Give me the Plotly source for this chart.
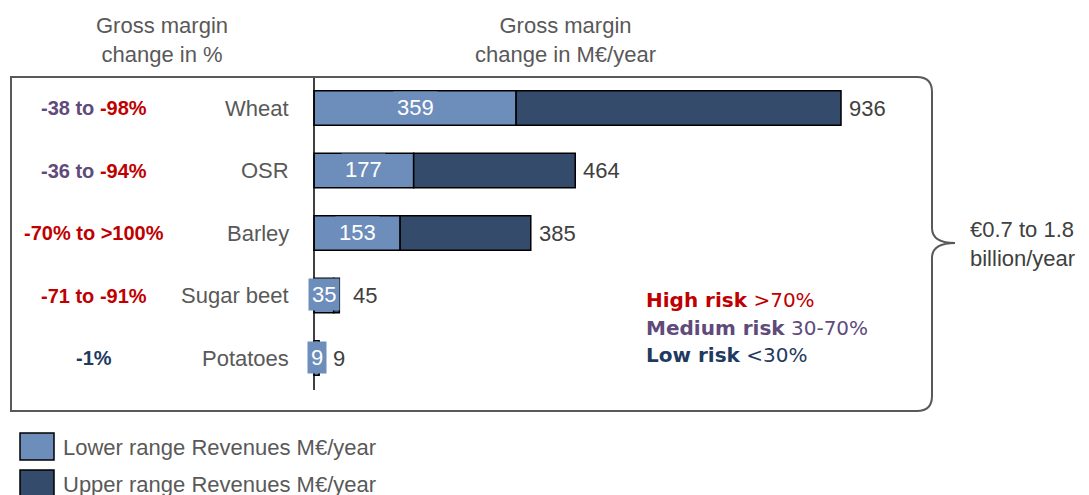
import plotly.graph_objects as go

# ---------------- data ----------------
crops = ["Wheat", "OSR", "Barley", "Sugar beet", "Potatoes"]
lower_vals = [359, 177, 153, 35, 9]
upper_vals = [936, 464, 385, 45, 9]
pct_parts = [
    [("-38 to ", "medium"), ("-98%", "high")],
    [("-36 to ", "medium"), ("-94%", "high")],
    [("-70% to >100%", "high")],
    [("-71 to -91%", "high")],
    [("-1%", "low")],
]
risk_keys = ["high", "medium", "low"]
risk_names = ["High risk", "Medium risk", "Low risk"]
risk_ranges = [">70%", "30-70%", "<30%"]
legend_names = ["Lower range Revenues M\u20ac/year", "Upper range Revenues M\u20ac/year"]
header_left = "Gross margin<br>change in %"
header_right = "Gross margin<br>change in M\u20ac/year"
total_text = ["\u20ac0.7 to 1.8", "billion/year"]

# ---------------- style ----------------
W, H = 1089, 495
OFF = 8  # page body margin offset
C_LIGHT = "#6D8DBB"
C_DARK = "#354B6B"
C_TEXT = "#595959"
C_TEXT2 = "#404040"
RISK_COL = {"high": "#C00000", "medium": "#604A7B", "low": "#1F3A5F"}
FONT = "Liberation Sans, Arial, sans-serif"
VFONT = "DejaVu Sans, Verdana, sans-serif"


def px(x):
    return (x - OFF) / W


def py(y):
    return 1 - (y - OFF) / H


# axis mapping: value 0 at pixel 314, 936 at pixel 841
k = (841 - 314) / 936.0
x0pix = 314 - OFF
x_range = [-x0pix / k, (W - x0pix) / k]
# category rows: Potatoes(0) at y=358px, spacing 62.5 px
sp = 62.5
y0pix = 358 - OFF
y_range = [(y0pix - H) / sp, y0pix / sp]
order = list(reversed(crops))

fig = go.Figure()
fig.add_trace(go.Bar(
    y=crops, x=lower_vals, orientation="h", name=legend_names[0],
    marker=dict(color=C_LIGHT, line=dict(color="black", width=1.5)),
    width=0.55, showlegend=False, hoverinfo="skip"))
fig.add_trace(go.Bar(
    y=crops, x=[u - l for u, l in zip(upper_vals, lower_vals)], base=lower_vals,
    orientation="h", name=legend_names[1],
    marker=dict(color=C_DARK, line=dict(color="black", width=1.5)),
    width=0.55, showlegend=False, hoverinfo="skip"))

ann = []
for i, c in enumerate(crops):
    # inside label (lower value)
    ann.append(dict(x=lower_vals[i] / 2, y=c, xref="x", yref="y", text=str(lower_vals[i]),
                    showarrow=False, font=dict(family=FONT, size=22, color="white"),
                    bgcolor=C_LIGHT, borderpad=3, xanchor="center", yanchor="middle", yshift=1))
    # total label
    ann.append(dict(x=upper_vals[i], y=c, xref="x", yref="y", text=str(upper_vals[i]),
                    showarrow=False, font=dict(family=FONT, size=22, color=C_TEXT2),
                    xanchor="left", yanchor="middle", xshift=6 if upper_vals[i] > 50 else 12))
    # category label
    ann.append(dict(x=px(291), y=c, xref="paper", yref="y", text=c, showarrow=False,
                    font=dict(family=FONT, size=22, color=C_TEXT), xanchor="right", yanchor="middle"))
    # percent label
    txt = "".join(f"<span style='color:{RISK_COL[col]}'>{t}</span>" for t, col in pct_parts[i])
    ann.append(dict(x=px(94), y=c, xref="paper", yref="y", text="<b>" + txt + "</b>", showarrow=False,
                    font=dict(family=FONT, size=20), xanchor="center", yanchor="middle"))

# headers
ann.append(dict(x=px(94), y=py(40), xref="paper", yref="paper", text=header_left, showarrow=False,
                font=dict(family=FONT, size=22, color=C_TEXT), align="center", yanchor="middle"))
ann.append(dict(x=px(565), y=py(40), xref="paper", yref="paper", text=header_right, showarrow=False,
                font=dict(family=FONT, size=22, color=C_TEXT), align="center", yanchor="middle"))

# risk legend
for j, key in enumerate(risk_keys):
    ann.append(dict(x=px(644), y=py(300 + 27.5 * j), xref="paper", yref="paper",
                    text=f"<b>{risk_names[j]}</b> {risk_ranges[j]}", showarrow=False,
                    font=dict(family=VFONT, size=20, color=RISK_COL[key]),
                    xanchor="left", yanchor="middle"))

# brace total text
ann.append(dict(x=px(968), y=py(244), xref="paper", yref="paper",
                text=total_text[0] + "<br>" + total_text[1], showarrow=False,
                font=dict(family=FONT, size=22, color=C_TEXT2), align="left",
                xanchor="left", yanchor="middle"))

# bottom legend
shapes = []
for j, (nm, col) in enumerate(zip(legend_names, [C_LIGHT, C_DARK])):
    y0 = 433 + 37 * j
    shapes.append(dict(type="rect", xref="paper", yref="paper", x0=px(20), x1=px(54),
                       y0=py(y0), y1=py(y0 + 27), fillcolor=col, line=dict(color="black", width=1.5)))
    ann.append(dict(x=px(61), y=py(y0 + 14), xref="paper", yref="paper", text=nm, showarrow=False,
                    font=dict(family=FONT, size=22, color=C_TEXT), xanchor="left", yanchor="middle"))

# vertical axis line at zero
shapes.append(dict(type="line", xref="x", yref="paper", x0=0, x1=0, y0=py(76), y1=py(390),
                   line=dict(color="black", width=1.5)))


# box with brace
def P(x, y):
    return f"{px(x):.5f},{py(y):.5f}"


path = (f"M {P(917,77)} L {P(11,77)} L {P(11,411)} L {P(917,411)} "
        f"Q {P(932,411)} {P(932,396)} L {P(932,258)} Q {P(932,243)} {P(955,243)} "
        f"Q {P(932,243)} {P(932,228)} L {P(932,92)} Q {P(932,77)} {P(917,77)}")
shapes.append(dict(type="path", xref="paper", yref="paper", path=path,
                   line=dict(color="#595959", width=2)))

fig.update_layout(
    width=W, height=H, margin=dict(l=0, r=0, t=0, b=0),
    paper_bgcolor="white", plot_bgcolor="white",
    barmode="overlay",
    xaxis=dict(range=x_range, visible=False, fixedrange=True),
    yaxis=dict(range=y_range, categoryorder="array", categoryarray=order, visible=False, fixedrange=True),
    annotations=ann, shapes=shapes, showlegend=False,
)

fig.write_html("out.html")
